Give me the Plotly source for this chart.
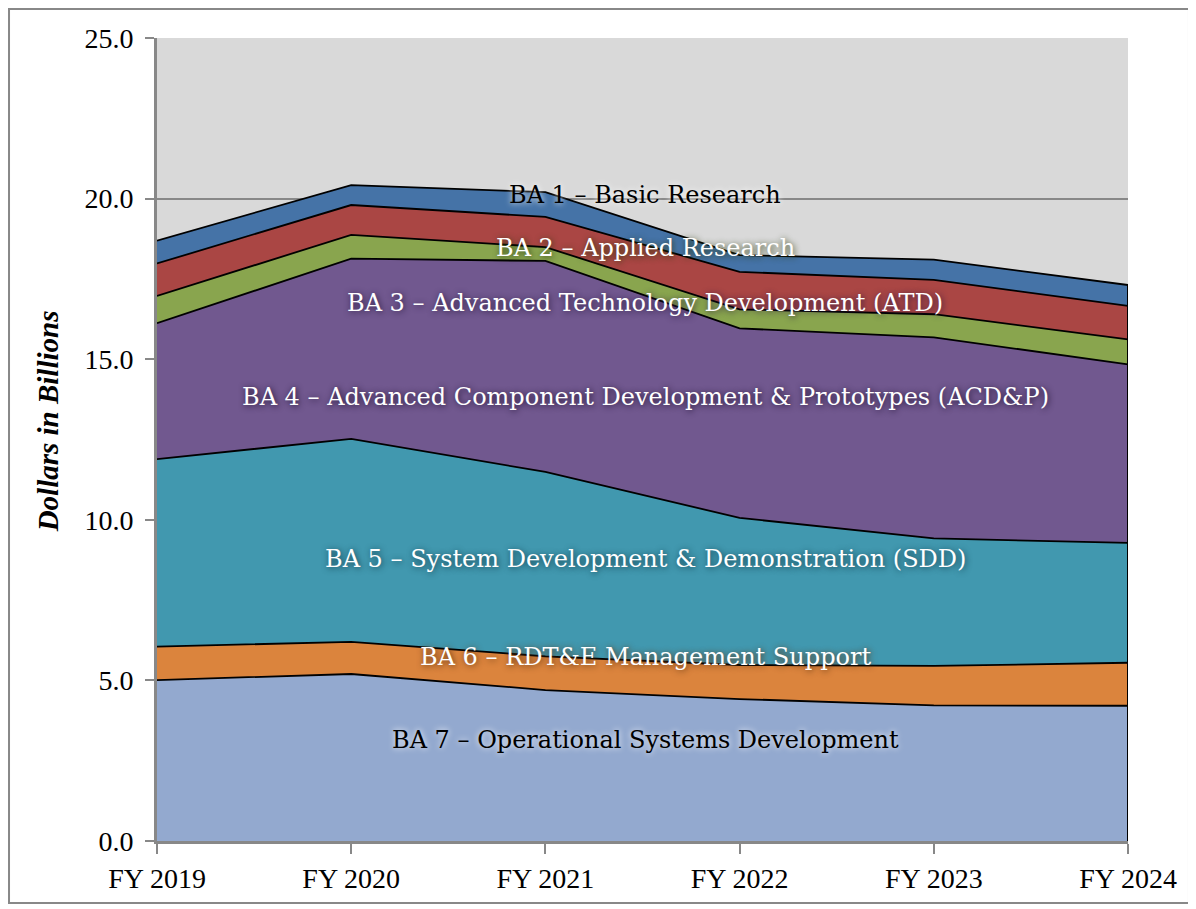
import plotly.graph_objects as go

categories = ["FY 2019", "FY 2020", "FY 2021", "FY 2022", "FY 2023", "FY 2024"]

ba7 = [5.01, 5.20, 4.70, 4.42, 4.22, 4.21]
ba6 = [1.04, 1.00, 1.05, 1.06, 1.23, 1.34]
ba5 = [5.84, 6.32, 5.74, 4.58, 3.97, 3.73]
ba4 = [4.23, 5.61, 6.57, 5.90, 6.26, 5.56]
ba3 = [0.85, 0.74, 0.43, 0.59, 0.72, 0.78]
ba2 = [1.01, 0.93, 0.94, 1.17, 1.07, 1.04]
ba1 = [0.71, 0.62, 0.77, 0.52, 0.63, 0.65]

series_names = [
    "BA 7 – Operational Systems Development",
    "BA 6 – RDT&E Management Support",
    "BA 5 – System Development & Demonstration (SDD)",
    "BA 4 – Advanced Component Development & Prototypes (ACD&P)",
    "BA 3 – Advanced Technology Development (ATD)",
    "BA 2 – Applied Research",
    "BA 1 – Basic Research",
]
series_values = [ba7, ba6, ba5, ba4, ba3, ba2, ba1]
colors = ["#93a9cf", "#db843d", "#4198af", "#71588f", "#89a54e", "#aa4644", "#4573a7"]

# label placement (y in data units, x in paper fraction)
label_y = [3.14, 5.73, 8.78, 13.82, 16.75, 18.46, 20.11]
label_color = ["#000000", "#ffffff", "#ffffff", "#ffffff", "#ffffff", "#ffffff", "#000000"]
label_shadow = ["0px 0px 6px #ffffff", "1px 1px 6px #5a3010", "1px 1px 6px #0e3a48",
                "1px 1px 6px #1e1030", "1px 1px 6px #2a1a40", "1px 1px 6px #2a3a10",
                "0px 0px 6px #ffffff"]

fig = go.Figure()
for name, vals, col in zip(series_names, series_values, colors):
    fig.add_trace(go.Scatter(
        x=categories, y=vals, name=name, stackgroup="one",
        mode="lines", line=dict(color="black", width=1.8),
        fillcolor=col, hoverinfo="skip",
    ))

total_last = sum(v[-1] for v in series_values)
fig.add_trace(go.Scatter(x=[categories[-1], categories[-1]], y=[0, total_last],
                         mode="lines", line=dict(color="black", width=2),
                         hoverinfo="skip", showlegend=False))

for name, y, c, sh in zip(series_names, label_y, label_color, label_shadow):
    fig.add_annotation(x=0.5026, xref="paper", y=y, yref="y", text=name,
                       showarrow=False, xanchor="center", yanchor="middle",
                       font=dict(family="DejaVu Serif", size=24, color=c, shadow=sh))

# y-axis title
fig.add_annotation(x=-0.1128, xref="paper", y=13.08, yref="y",
                   text="<b><i>Dollars in Billions</i></b>", textangle=-90,
                   showarrow=False, xanchor="center", yanchor="middle",
                   font=dict(family="Liberation Serif", size=29, color="black"))

fig.add_shape(type="rect", xref="paper", yref="paper",
              x0=-0.1524, x1=1.0628, y0=-0.0772, y1=1.0361,
              line=dict(color="#888888", width=2), fillcolor="rgba(0,0,0,0)", layer="below")

fig.update_layout(
    width=1188, height=901,
    margin=dict(l=149, r=68, t=30, b=68),
    plot_bgcolor="#d9d9d9", paper_bgcolor="white",
    showlegend=False,
    font=dict(family="Liberation Serif", size=28, color="black"),
)
fig.update_xaxes(
    type="category", range=[0, 5], showgrid=False, automargin=False,
    showline=True, linecolor="#888888", linewidth=3,
    ticks="outside", ticklen=10, tickcolor="#888888", tickwidth=2,
    tickfont=dict(family="Liberation Serif", size=28),
)
fig.update_yaxes(
    range=[0, 25], dtick=5, tickformat=".1f", automargin=False,
    showgrid=True, gridcolor="#888888", gridwidth=2,
    showline=True, linecolor="#888888", linewidth=3,
    ticks="outside", ticklen=9, tickcolor="#888888", tickwidth=2,
    ticklabelstandoff=6,
    tickfont=dict(family="Liberation Serif", size=28),
    zeroline=False,
)

fig.write_html("out.html")
